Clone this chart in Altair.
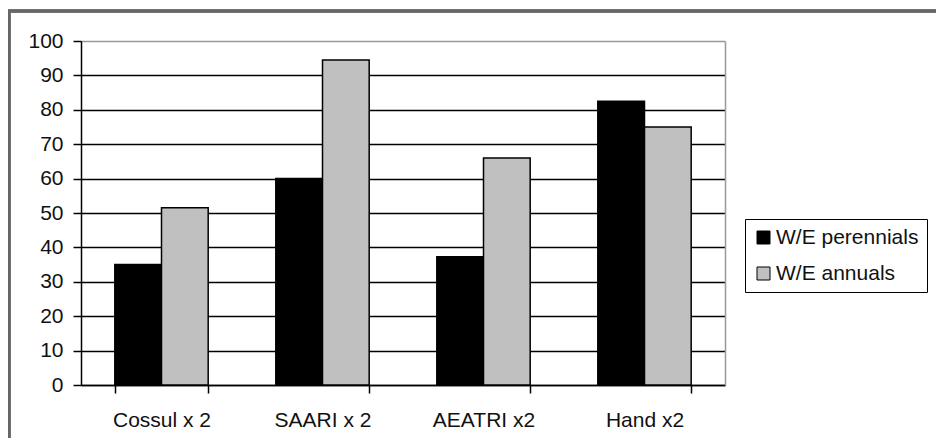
import altair as alt
import pandas as pd

categories = ["Cossul x 2", "SAARI x 2", "AEATRI x2", "Hand x2"]
series_names = ["W/E perennials", "W/E annuals"]
perennials = [35, 60, 37.3, 82.5]
annuals = [51.5, 94.5, 66, 75]
y_ticks = [0, 10, 20, 30, 40, 50, 60, 70, 80, 90, 100]

rows = []
for c, p, a in zip(categories, perennials, annuals):
    rows.append({"cat": c, "series": series_names[0], "value": p})
    rows.append({"cat": c, "series": series_names[1], "value": a})
df = pd.DataFrame(rows)

FONT = "Liberation Sans"
W, H = 644, 344

x_enc = alt.X("cat:N", sort=categories, title=None,
              scale=alt.Scale(paddingInner=0.42, paddingOuter=0.21),
              axis=alt.Axis(labelAngle=0, tickBand="extent", tickSize=8,
                            tickColor="black", tickWidth=1.5, domainColor="black",
                            domainWidth=1.5, labelFontSize=21, labelFont=FONT,
                            labelColor="#111", labelPadding=16, grid=False))

bars = alt.Chart(df).mark_bar(stroke="black", strokeWidth=1.5).encode(
    x=x_enc,
    xOffset=alt.XOffset("series:N", sort=series_names),
    y=alt.Y("value:Q", title=None,
            scale=alt.Scale(domain=[0, 100], nice=False),
            axis=alt.Axis(values=y_ticks, tickSize=8, tickColor="black", tickWidth=1.5,
                          domainColor="black", domainWidth=1.5,
                          labelFontSize=21, labelFont=FONT, labelColor="#111",
                          labelPadding=10, grid=True,
                          gridColor=alt.condition("datum.value == 100", alt.value("#999999"), alt.value("black")),
                          gridWidth=1.5)),
    color=alt.Color("series:N", sort=series_names,
                    scale=alt.Scale(domain=series_names, range=["#000000", "#c0c0c0"]),
                    legend=alt.Legend(orient="none", legendX=664, legendY=178, title=None,
                                      strokeColor="black", fillColor="white",
                                      padding=8, symbolType="square", symbolSize=169,
                                      symbolStrokeColor="black", symbolStrokeWidth=1,
                                      labelFontSize=21, labelFont=FONT, labelColor="#111",
                                      labelOffset=2, rowPadding=14, labelLimit=300)),
)

right_axis = alt.Chart(df).mark_rule(opacity=0).encode(
    y=alt.Y("value:Q", scale=alt.Scale(domain=[0, 100], nice=False),
            axis=alt.Axis(orient="right", labels=False, ticks=False, grid=False,
                          domainColor="#999999", domainWidth=1.5, title=None)),
)

border = alt.Chart(df).mark_rect(fill=None, stroke="#666666", strokeWidth=2.5, clip=False).encode(
    x=alt.value(-72), x2=alt.value(940), y=alt.value(-30), y2=alt.value(430)
)

chart = alt.layer(bars, right_axis, border).resolve_scale(y="independent").properties(
    width=W, height=H,
    padding={"left": 73, "top": 33, "right": 211, "bottom": 60},
    autosize=alt.AutoSizeParams(type="none"),
    background="white",
).configure_view(stroke=None)

chart.save("out.html", embed_options={"renderer": "svg", "actions": False})
